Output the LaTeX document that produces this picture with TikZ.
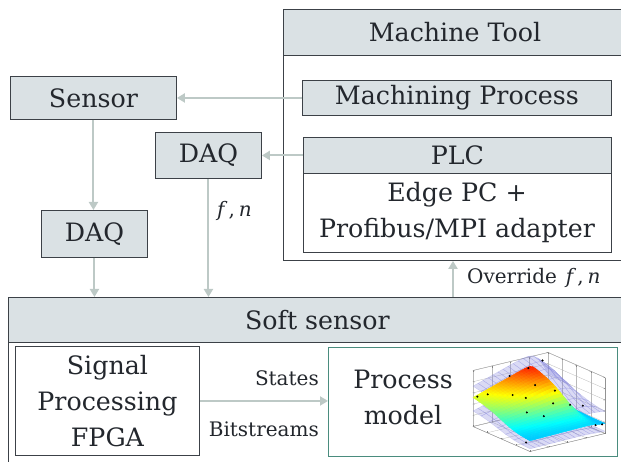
\documentclass[tikz,border=0pt]{standalone}
\usepackage{fontspec}
\setmainfont{DejaVu Serif}
\usepackage{pgfplots}
\pgfplotsset{compat=1.18}
\usetikzlibrary{arrows.meta}

\definecolor{bordc}{HTML}{3C4147}
\definecolor{headc}{HTML}{DAE1E4}
\definecolor{txtc}{HTML}{23272D}
\definecolor{arrc}{HTML}{BDC9C6}
\definecolor{tealc}{HTML}{4A8C7E}
\definecolor{lavc}{HTML}{8585DC}

\pgfplotsset{
  colormap={lavm}{color=(lavc) color=(lavc)},
  colormap={myjet}{rgb255=(0,0,140) rgb255=(0,0,255) rgb255=(0,128,255)
    rgb255=(0,255,255) rgb255=(128,255,128) rgb255=(255,255,0)
    rgb255=(255,128,0) rgb255=(255,0,0) rgb255=(140,0,0)}}

\newcommand{\bigfs}{\fontsize{25.3}{36}\selectfont}
\newcommand{\smallfs}{\fontsize{20}{24}\selectfont}
\newcommand{\fnpair}{\textit{f}\kern1pt,\kern4pt\textit{n}}

\begin{document}
\begin{tikzpicture}[x=1pt,y=-1pt,
  box/.style={draw=bordc, line width=0.9pt, inner sep=0pt, anchor=north west,
              font=\bigfs, text=txtc},
  headbox/.style={box, fill=headc},
  lbl/.style={inner sep=0pt, font=\bigfs, text=txtc, align=center},
  smalllbl/.style={inner sep=0pt, font=\smallfs, text=txtc},
  arr/.style={draw=arrc, line width=2pt, -{Triangle[length=8pt,width=9pt]}}]

\useasboundingbox (0,0) rectangle (621,462);
\clip (0,0) rectangle (621,462);

% machine tool block
\node[box, minimum width=343, minimum height=251] (mtool) at (283,9) {};
\node[headbox, minimum width=343, minimum height=46] (mthead) at (283,9) {Machine Tool};
\node[headbox, minimum width=309, minimum height=35] (mproc) at (302,80) {Machining Process};
\node[box, minimum width=308, minimum height=115] (plc) at (303,137) {};
\node[headbox, minimum width=308, minimum height=36] (plchead) at (303,137) {PLC};
\node[lbl] (plctxt) at (457,213) {Edge PC +\\Profibus/MPI adapter};

% sensing chain
\node[headbox, minimum width=166, minimum height=43] (sensor) at (10,76) {Sensor};
\node[headbox, minimum width=106, minimum height=46] (daqB) at (155,132) {DAQ};
\node[headbox, minimum width=106, minimum height=47] (daqA) at (41,210) {DAQ};

% soft sensor block
\node[box, minimum width=618, minimum height=170] (soft) at (8,297) {};
\node[headbox, minimum width=618, minimum height=45] (softhead) at (8,297) {Soft sensor};
\node[box, minimum width=184, minimum height=109, align=center] (sigproc) at (15,346) {Signal\\Processing\\FPGA};
\node[box, draw=tealc, line width=1.1pt, minimum width=289, minimum height=109] (pmodel) at (328,347) {};
\node[lbl] (pmtxt) at (403,397) {Process\\model};

% connectors
\draw[arr] (mproc.west) -- (sensor.east);
\draw[arr] (plchead.west) -- (daqB.east);
\draw[arr] (sensor.south) -- (sensor.south |- daqA.north);
\draw[arr] (daqA.south) -- (daqA.south |- soft.north);
\draw[arr] (daqB.south) -- (daqB.south |- soft.north);
\coordinate (ovrx) at (453,0);
\draw[arr] (ovrx |- soft.north) -- (ovrx |- mtool.south);
\draw[arr] (sigproc.east) -- (sigproc.east -| pmodel.west);

% connector labels
\node[smalllbl, anchor=west] (fnlab) at (217,211) {\fnpair};
\node[smalllbl, anchor=west] (ovrlab) at (467,278) {Override\hspace{9pt}\fnpair};
\node[smalllbl, anchor=east] (stlab) at (319,378) {States};
\node[smalllbl, anchor=east] (bslab) at (319,429) {Bitstreams};

% surface plot of the process model
\coordinate (plotc) at (539,402);
\begin{scope}[x={(1cm,0)},y={(0,1cm)}]
\begin{axis}[at={(plotc)}, anchor=center,
  x={(75pt,18pt)}, y={(-57pt,25pt)}, z={(0pt,56pt)},
  xmin=0, xmax=1, ymin=0, ymax=1, zmin=0, zmax=1,
  xtick={0,0.25,0.5,0.75,1}, ytick={0,0.25,0.5,0.75,1},
  ztick={0,0.2,0.4,0.6,0.8,1},
  xticklabels={}, yticklabels={}, zticklabels={},
  grid=major, major grid style={gray!55, line width=0.3pt},
  axis line style={gray!85, line width=0.4pt},
  tick style={gray, line width=0.3pt}, major tick length=1.5pt,
  colormap name=myjet, clip=false]
  % lower bound
  \addplot3[surf, shader=faceted, faceted color=none, opacity=0.3,
    colormap name=lavm,
    domain=0:1, y domain=0:1, samples=16, samples y=8, z buffer=sort]
    {0.04 + (0.15+0.4*x+0.1*y)/(1+exp(-6*(y-0.5)))/(1+exp(-20*(0.85-x)))};
  % upper bound
  \addplot3[surf, shader=faceted, faceted color=none, opacity=0.3,
    colormap name=lavm,
    domain=0:1, y domain=0:1, samples=16, samples y=8, z buffer=sort]
    {0.38 + (0.2+0.45*x+0.15*y)/(1+exp(-6*(y-0.4)))/(1+exp(-15*(0.95-x)))};
  % mean surface
  \addplot3[surf, shader=flat, colormap name=myjet,
    point meta min=-0.2, point meta max=0.95,
    domain=0:1, y domain=0:1, samples=30, samples y=26, z buffer=sort]
    {0.18 + (0.2+0.45*x+0.15*y)/(1+exp(-6*(y-0.45)))/(1+exp(-30*(0.88-x)))};
  % measured points
  \addplot3[only marks, mark=*, mark size=0.8pt, black] coordinates {
    (0.02,0.95,0.55) (0.12,0.9,0.58) (0.45,0.95,0.78) (0.7,0.95,0.84)
    (0.85,0.9,0.95) (0.3,0.7,0.6) (0.4,0.6,0.56) (0.6,0.7,0.68)
    (0.3,0.45,0.4) (0.45,0.35,0.33) (0.65,0.45,0.45) (0.75,0.55,0.6)
    (0.8,0.35,0.42) (0.97,0.35,0.35) (0.95,0.1,0.12) (1.0,0.05,0.14)
    (0.1,0.2,0.04) };
\end{axis}
\end{scope}

\end{tikzpicture}
\end{document}
